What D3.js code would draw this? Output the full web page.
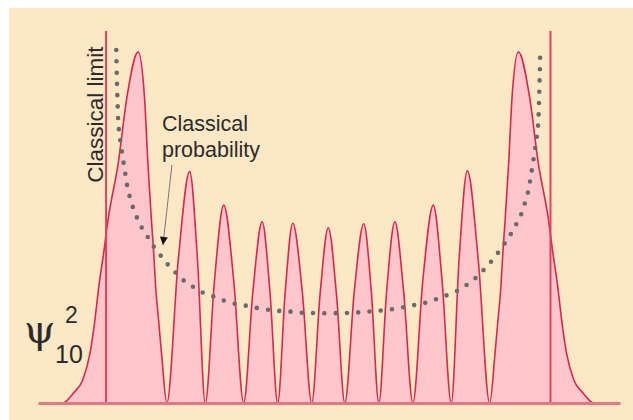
<!DOCTYPE html>
<html>
<head>
<meta charset="utf-8">
<script src="https://cdn.jsdelivr.net/npm/d3@7"></script>
<style>
  body { margin: 0; background: #fff; }
  svg { display: block; }
  text { font-family: "Liberation Sans", Arial, sans-serif; fill: #2b2b2b; }
</style>
</head>
<body>
<svg id="chart" width="633" height="420"></svg>
<script>
// psi_10^2: position (oscillator units) and relative height
const psiX = [-5.75, -5.46, -5.24, -5.05, -4.90, -4.80, -4.72, -4.62, -4.53, -4.32, -4.14, -3.91,
  -3.78, -3.71, -3.64, -3.59, -3.55, -3.49, -3.43, -3.32,
  -3.085, -2.85, -2.69, -2.53, -2.34, -2.15, -1.945, -1.74, -1.55, -1.36, -1.20, -1.04, -0.885, -0.73, -0.535, -0.34,
  -0.17, 0.00, 0.17,
  0.34, 0.535, 0.73, 0.885, 1.04, 1.20, 1.37, 1.55, 1.74, 1.945, 2.16, 2.34, 2.53, 2.69, 2.86, 3.085, 3.32,
  3.43, 3.49, 3.55, 3.59, 3.64, 3.71, 3.78, 3.91, 4.14, 4.32, 4.53, 4.62, 4.72, 4.80, 4.90, 5.05, 5.24, 5.46, 5.75];
const psiY = [0, 0, 0.027, 0.062, 0.134, 0.223, 0.312, 0.403, 0.492, 0.645, 0.823, 0.944,
  0.823, 0.645, 0.497, 0.403, 0.312, 0.223, 0.134, 0,
  0.385, 0.622, 0.385, 0, 0.33, 0.532, 0.33, 0, 0.30, 0.487, 0.30, 0, 0.30, 0.483, 0.30, 0,
  0.29, 0.471, 0.29,
  0, 0.30, 0.482, 0.30, 0, 0.30, 0.487, 0.30, 0, 0.33, 0.532, 0.33, 0, 0.385, 0.624, 0.385, 0,
  0.134, 0.223, 0.312, 0.403, 0.497, 0.645, 0.823, 0.944, 0.823, 0.645, 0.492, 0.403, 0.312, 0.223, 0.134, 0.062, 0.027, 0, 0];

// classical probability (dotted curve)
const classicalX = [-4.36, -4.35, -4.335, -4.315, -4.28, -4.24, -4.20, -4.16, -4.12, -4.05, -3.97, -3.89, -3.81, -3.70,
  -3.58, -3.42, -3.29, -3.13, -2.96, -2.78, -2.57, -2.33, -2.12, -1.89, -1.67, -1.44, -1.19, -0.95, -0.72, -0.49, -0.27, 0,
  0.27, 0.49, 0.72, 0.95, 1.19, 1.44, 1.67, 1.89, 2.12, 2.33, 2.57, 2.78, 2.96, 3.13, 3.29, 3.42, 3.58,
  3.70, 3.81, 3.89, 3.97, 4.05, 4.12, 4.16, 4.20, 4.24, 4.28, 4.315, 4.335, 4.35, 4.36];
const classicalY = [0.949, 0.882, 0.815, 0.747, 0.707, 0.672, 0.637, 0.605, 0.573, 0.540, 0.508, 0.487, 0.465, 0.444,
  0.419, 0.392, 0.371, 0.349, 0.328, 0.312, 0.296, 0.285, 0.274, 0.266, 0.261, 0.255, 0.250, 0.247, 0.245, 0.242, 0.242, 0.241,
  0.242, 0.242, 0.245, 0.247, 0.250, 0.255, 0.261, 0.266, 0.274, 0.285, 0.296, 0.312, 0.328, 0.349, 0.371, 0.392, 0.419,
  0.444, 0.465, 0.487, 0.508, 0.540, 0.573, 0.605, 0.637, 0.672, 0.707, 0.747, 0.815, 0.882, 0.949];

// classical turning points
const limitX = [-4.57, 4.57];
const limitTop = 1.0;

const svg = d3.select("#chart");

// scales
let x = d3.scaleLinear().domain([-5.97, 6.0]).range([38, 620]);
let y = d3.scaleLinear().domain([0, 1]).range([403, 31]);

// beige panel
svg.append("rect")
  .attr("x", 9).attr("y", 8)
  .attr("width", 624).attr("height", 412)
  .attr("fill", "#fde8c6");

let psiData = psiX.map((d, i) => ({x: d, y: psiY[i]}));
let classicalData = classicalX.map((d, i) => ({x: d, y: classicalY[i]}));

// filled probability density
let area = d3.area()
  .x(d => x(d.x))
  .y0(y(0))
  .y1(d => y(d.y))
  .curve(d3.curveMonotoneX);
svg.append("path")
  .datum(psiData)
  .attr("d", area)
  .attr("fill", "#ffc6cc");

let line = d3.line()
  .x(d => x(d.x))
  .y(d => y(d.y))
  .curve(d3.curveMonotoneX);
svg.append("path")
  .datum(psiData)
  .attr("d", line)
  .attr("fill", "none")
  .attr("stroke", "#d9284b")
  .attr("stroke-width", 1.6);

// classical limit lines
svg.selectAll(".limit")
  .data(limitX)
  .enter()
  .append("line")
  .attr("class", "limit")
  .attr("x1", d => x(d)).attr("x2", d => x(d))
  .attr("y1", y(0)).attr("y2", y(limitTop))
  .attr("stroke", "#e0405e")
  .attr("stroke-width", 2);

// baseline
let axis = d3.axisBottom(x).tickValues([]).tickSizeOuter(0);
let gAxis = svg.append("g").attr("transform", "translate(0," + y(0) + ")").call(axis);
gAxis.select(".domain").attr("stroke", "#e27884").attr("stroke-width", 3);

// dotted classical curve
let classicalLine = d3.line()
  .x(d => x(d.x))
  .y(d => y(d.y))
  .curve(d3.curveCatmullRom.alpha(0.5));
svg.append("path")
  .datum(classicalData)
  .attr("d", classicalLine)
  .attr("fill", "none")
  .attr("stroke", "#6a6a6a")
  .attr("stroke-width", 4.6)
  .attr("stroke-linecap", "round")
  .attr("stroke-dasharray", "0 11.3");

// labels
svg.append("text")
  .attr("transform", "translate(" + (x(limitX[0]) - 3) + "," + y(0.592) + ") rotate(-90)")
  .style("font-size", "22.5px")
  .text("Classical limit");

svg.append("text")
  .attr("x", x(-3.42)).attr("y", y(0.731))
  .style("font-size", "21.5px")
  .text("Classical");
svg.append("text")
  .attr("x", x(-3.42)).attr("y", y(0.662))
  .style("font-size", "21.5px")
  .text("probability");

// arrow to the dotted curve
svg.append("defs").append("marker")
  .attr("id", "head")
  .attr("viewBox", "0 0 10 10")
  .attr("refX", 10).attr("refY", 5)
  .attr("markerUnits", "userSpaceOnUse")
  .attr("markerWidth", 15).attr("markerHeight", 8)
  .attr("orient", "auto")
  .append("path")
  .attr("d", "M0,0 L10,5 L0,10 Z")
  .attr("fill", "#111");
svg.append("line")
  .attr("x1", x(-3.215)).attr("y1", y(0.64))
  .attr("x2", x(-3.40)).attr("y2", y(0.425))
  .attr("stroke", "#777")
  .attr("stroke-width", 1)
  .attr("marker-end", "url(#head)");

// psi label
let psiLabel = svg.append("g");
psiLabel.append("text")
  .attr("x", 24).attr("y", 343)
  .style("font-family", "'DejaVu Serif', serif")
  .style("font-size", "40px")
  .text("ψ");
psiLabel.append("text")
  .attr("x", 65).attr("y", 323)
  .style("font-size", "23px")
  .text("2");
psiLabel.append("text")
  .attr("x", 55).attr("y", 363)
  .style("font-size", "25px")
  .text("10");
</script>
</body>
</html>
